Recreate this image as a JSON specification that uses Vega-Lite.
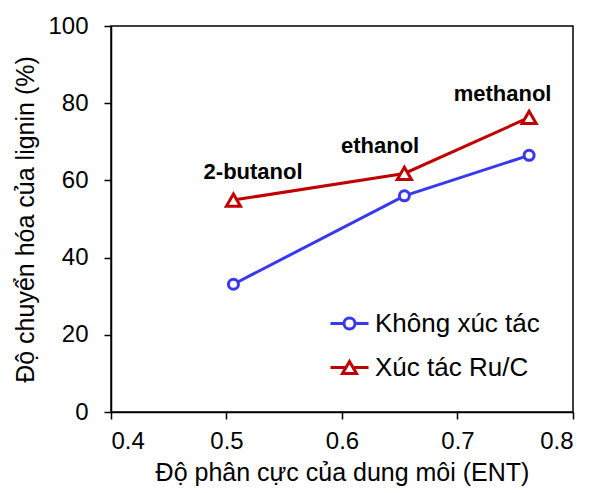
{
  "$schema": "https://vega.github.io/schema/vega-lite/v6.json",
  "width": 462,
  "height": 386,
  "autosize": "none",
  "padding": {"left": 111, "top": 26, "right": 17, "bottom": 81},
  "background": "white",
  "config": {
    "font": "Liberation Sans",
    "view": {"stroke": "black", "strokeWidth": 1.5},
    "axis": {
      "grid": false,
      "domainColor": "black",
      "domainWidth": 1.5,
      "tickColor": "black",
      "tickWidth": 1.5,
      "tickSize": 7,
      "labelFont": "Liberation Sans",
      "labelFontSize": 24,
      "labelColor": "black",
      "titleFont": "Liberation Sans",
      "titleFontSize": 25,
      "titleFontWeight": "normal",
      "titleColor": "black"
    }
  },
  "datasets": {
    "series": [
      {"E": 0.506, "conv": 33.1, "group": "Không xúc tác"},
      {"E": 0.654, "conv": 56.0, "group": "Không xúc tác"},
      {"E": 0.762, "conv": 66.5, "group": "Không xúc tác"},
      {"E": 0.506, "conv": 54.9, "group": "Xúc tác Ru/C"},
      {"E": 0.654, "conv": 61.8, "group": "Xúc tác Ru/C"},
      {"E": 0.762, "conv": 76.3, "group": "Xúc tác Ru/C"}
    ],
    "labels": [
      {"E": 0.523, "conv": 62.3, "name": "2-butanol"},
      {"E": 0.633, "conv": 68.9, "name": "ethanol"},
      {"E": 0.739, "conv": 82.3, "name": "methanol"}
    ]
  },
  "layer": [
    {
      "data": {"name": "series"},
      "mark": {"type": "line", "strokeWidth": 3},
      "encoding": {
        "x": {
          "field": "E", "type": "quantitative",
          "scale": {"domain": [0.4, 0.8], "nice": false, "zero": false},
          "axis": {"values": [0.4, 0.5, 0.6, 0.7, 0.8], "format": ".1f", "labelPadding": 10, "titlePadding": 7,
                   "title": "Độ phân cực của dung môi (ENT)"}
        },
        "y": {
          "field": "conv", "type": "quantitative",
          "scale": {"domain": [0, 100], "nice": false},
          "axis": {"values": [0, 20, 40, 60, 80, 100], "labelPadding": 16, "titlePadding": 9,
                   "title": "Độ chuyển hóa của lignin (%)"}
        },
        "color": {
          "field": "group", "type": "nominal",
          "scale": {"domain": ["Không xúc tác", "Xúc tác Ru/C"], "range": ["#3838ee", "#c00000"]},
          "legend": {
            "title": null,
            "orient": "none",
            "legendX": 218,
            "legendY": 277,
            "padding": 0,
            "labelFontSize": 26,
            "labelFont": "Liberation Sans",
            "labelColor": "black",
            "labelLimit": 400,
            "labelOffset": 5,
            "rowPadding": 10,
            "symbolSize": 1444,
            "symbolStrokeWidth": 3,
            "encode": {
              "symbols": {
                "update": {
                  "shape": {"signal": "datum.value == 'Không xúc tác' ? 'M-1,0H-0.29M0.29,0H1M-0.29,0A0.29,0.29,0,1,1,0.29,0A0.29,0.29,0,1,1,-0.29,0Z' : 'M-1,0H-0.18M0.18,0H1M0,-0.32L0.37,0.32L-0.37,0.32Z'"},
                  "size": {"value": 1444},
                  "fill": {"value": "white"},
                  "fillOpacity": {"value": 1},
                  "stroke": {"scale": "color", "field": "value"},
                  "strokeWidth": {"value": 3}
                }
              }
            }
          }
        }
      }
    },
    {
      "data": {"name": "series"},
      "transform": [{"filter": "datum.group == 'Không xúc tác'"}],
      "mark": {"type": "point", "shape": "circle", "size": 100, "filled": false, "fill": "white", "fillOpacity": 1, "strokeWidth": 3, "opacity": 1},
      "encoding": {
        "x": {"field": "E", "type": "quantitative"},
        "y": {"field": "conv", "type": "quantitative"},
        "color": {"field": "group", "type": "nominal"}
      }
    },
    {
      "data": {"name": "series"},
      "transform": [{"filter": "datum.group == 'Xúc tác Ru/C'"}],
      "mark": {"type": "point", "shape": "triangle-up", "size": 200, "filled": false, "fill": "white", "fillOpacity": 1, "strokeWidth": 3, "opacity": 1},
      "encoding": {
        "x": {"field": "E", "type": "quantitative"},
        "y": {"field": "conv", "type": "quantitative"},
        "color": {"field": "group", "type": "nominal"}
      }
    },
    {
      "data": {"name": "labels"},
      "mark": {"type": "text", "font": "Liberation Sans", "fontWeight": "bold", "fontSize": 22, "align": "center", "baseline": "middle", "color": "black"},
      "encoding": {
        "x": {"field": "E", "type": "quantitative"},
        "y": {"field": "conv", "type": "quantitative"},
        "text": {"field": "name"}
      }
    }
  ]
}
